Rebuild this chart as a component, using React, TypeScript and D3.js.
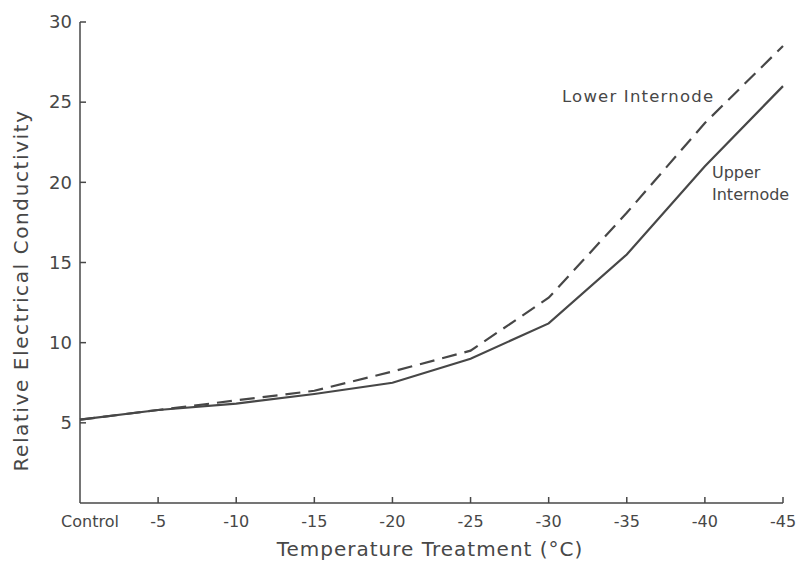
import * as d3 from "d3"

const W = 803
const H = 569
const M = { left: 80, top: 22, right: 20, bottom: 66 }

const categories = ["Control", "-5", "-10", "-15", "-20", "-25", "-30", "-35", "-40", "-45"]
const upperInternode = [5.2, 5.8, 6.2, 6.8, 7.5, 9.0, 11.2, 15.5, 21.0, 26.0]
const lowerInternode = [5.2, 5.8, 6.4, 7.0, 8.2, 9.5, 12.8, 18.1, 23.7, 28.5]
const yTicks = [5, 10, 15, 20, 25, 30]

const ink = "#474747"
const font = "'DejaVu Sans', sans-serif"

export default function App() {
  const x = d3.scalePoint<string>().domain(categories).range([M.left, W - M.right])
  const y = d3.scaleLinear().domain([0, 30]).range([H - M.bottom, M.top])

  const line = d3
    .line<number>()
    .x((_, i) => x(categories[i]) as number)
    .y((d) => y(d))

  return (
    <div style={{ position: "absolute", left: 0, top: 0, background: "#fff" }}>
      <svg width={W} height={H} style={{ display: "block" }}>
        <rect width={W} height={H} fill="#fff" />
        {/* axes */}
        <line x1={M.left} x2={M.left} y1={y(30)} y2={y(0)} stroke={ink} strokeWidth={1.5} />
        <line x1={M.left} x2={W - M.right} y1={y(0)} y2={y(0)} stroke={ink} strokeWidth={1.5} />
        {yTicks.map((t) => (
          <g key={t}>
            <line x1={M.left} x2={M.left + 6} y1={y(t)} y2={y(t)} stroke={ink} strokeWidth={1.5} />
            <text
              x={M.left - 8}
              y={y(t)}
              dy="0.35em"
              textAnchor="end"
              fontSize={18}
              fontFamily={font}
              fill={ink}
            >
              {t}
            </text>
          </g>
        ))}
        {categories.map((c, i) => (
          <g key={c}>
            {i > 0 && (
              <line
                x1={x(c)}
                x2={x(c)}
                y1={y(0)}
                y2={y(0) - 6}
                stroke={ink}
                strokeWidth={1.5}
              />
            )}
            <text
              x={i === 0 ? (x(c) as number) + 10 : (x(c) as number)}
              y={y(0) + 24}
              textAnchor="middle"
              fontSize={16}
              fontFamily={font}
              fill={ink}
            >
              {c}
            </text>
          </g>
        ))}
        <text
          x={430}
          y={556}
          textAnchor="middle"
          fontSize={20}
          letterSpacing={1}
          fontFamily={font}
          fill={ink}
        >
          Temperature Treatment (°C)
        </text>
        <text
          transform={`translate(28,${(M.top + y(0)) / 2 + 28}) rotate(-90)`}
          textAnchor="middle"
          fontSize={20}
          letterSpacing={1.6}
          fontFamily={font}
          fill={ink}
        >
          Relative Electrical Conductivity
        </text>
        {/* series */}
        <path d={line(upperInternode) ?? ""} fill="none" stroke={ink} strokeWidth={2.2} />
        <path
          d={line(lowerInternode) ?? ""}
          fill="none"
          stroke={ink}
          strokeWidth={2.2}
          strokeDasharray="15 8"
        />
        {/* labels */}
        <text x={562} y={102} fontSize={16.5} letterSpacing={1.2} fontFamily={font} fill={ink}>
          Lower Internode
        </text>
        <text x={712} y={178} fontSize={16} fontFamily={font} fill={ink}>
          Upper
        </text>
        <text x={712} y={200} fontSize={16} fontFamily={font} fill={ink}>
          Internode
        </text>
      </svg>
    </div>
  )
}
